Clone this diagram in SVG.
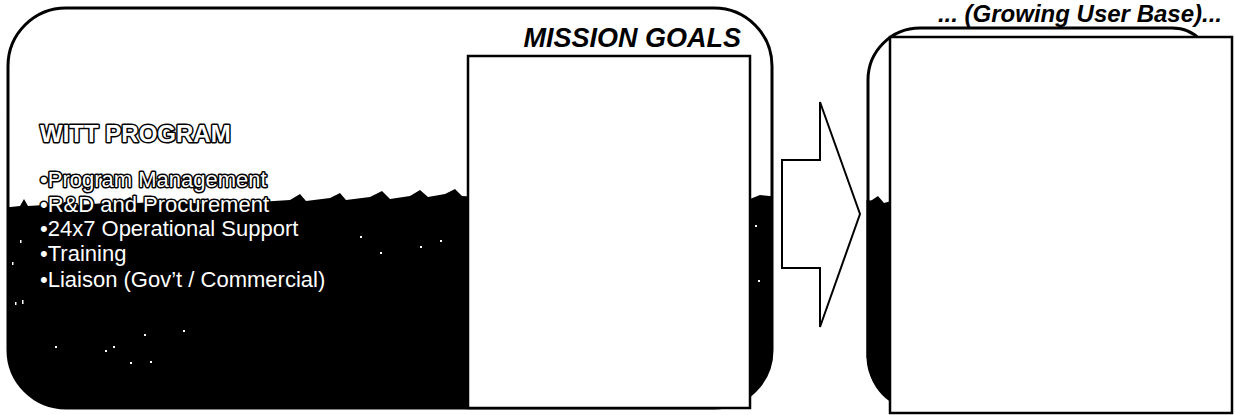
<svg xmlns="http://www.w3.org/2000/svg" width="1235" height="415" viewBox="0 0 1235 415">
<style>
.frame{fill:#fff;stroke:#000;stroke-width:3}
.panel{fill:#fff;stroke:#000;stroke-width:2.5}
.title{font-family:"Liberation Sans",Arial,sans-serif;font-weight:bold;font-style:italic;font-size:27px;fill:#000}
.sub{font-size:24px}
.item{font-family:"Liberation Sans",Arial,sans-serif;font-size:22px;fill:#fff;stroke:#000;stroke-width:3;paint-order:stroke;stroke-linejoin:round}
.hd{font-weight:bold;font-size:24px}
.dark{fill:#000}
.spk{fill:#fff}
</style>
<defs>
<clipPath id="clipL"><rect x="8" y="8" width="764" height="400" rx="58"/></clipPath>
<clipPath id="clipR"><path d="M868,80 A52,52 0 0 1 920,28 L1172,28 Q1190,28 1200,40 L1200,410 L918,410 A50,50 0 0 1 868,358 Z"/></clipPath>
</defs>

<g id="witt-program">
<rect class="frame" x="8" y="8" width="764" height="400" rx="58"/>
<g clip-path="url(#clipL)">
<path class="dark" d="M0,208 L20,206 L24,199 L28,206 L60,204 L70,200 L78,205 L120,202 L130,197 L136,203 L180,201 L200,204 L230,199 L240,203 L290,200 L300,194 L306,201 L330,198 L340,193 L346,200 L370,197 L382,191 L390,199 L410,196 L420,190 L428,197 L445,194 L455,189 L462,196 L480,197 L750,199 L760,195 L780,197 L780,415 L0,415 Z"/>
</g>
<g class="spk">
<rect x="22" y="300" width="1.5" height="4"/><rect x="15" y="302" width="1.5" height="3"/><rect x="55" y="346" width="2" height="2"/>
<rect x="105" y="350" width="2" height="2"/><rect x="113" y="346" width="2" height="2"/><rect x="130" y="362" width="2" height="2"/>
<rect x="150" y="361" width="2" height="2"/><rect x="144" y="334" width="2" height="2"/><rect x="183" y="330" width="2" height="2"/>
<rect x="380" y="252" width="2" height="2"/><rect x="420" y="246" width="2" height="2"/><rect x="440" y="240" width="2" height="2"/>
<rect x="20" y="240" width="1.5" height="3"/><rect x="12" y="262" width="1.5" height="3"/><rect x="360" y="236" width="2" height="2"/>
<rect x="755" y="225" width="2" height="2"/><rect x="758" y="280" width="2" height="2"/>
</g>
<text class="item hd" x="40" y="142">WITT PROGRAM</text>
<text class="item" x="40" y="187">•Program Management</text>
<text class="item" x="40" y="211.5">•R&amp;D and Procurement</text>
<text class="item" x="40" y="236">•24x7 Operational Support</text>
<text class="item" x="40" y="260.5">•Training</text>
<text class="item" x="40" y="287">•Liaison (Gov’t / Commercial)</text>
</g>

<g id="mission-goals">
<rect class="panel" x="468" y="56" width="282" height="352"/>
<text class="title" x="741" y="47" text-anchor="end">MISSION GOALS</text>
</g>

<g id="connectors">
<polygon points="782,160 820,160 820,102 860,214 820,327 820,268 782,268" fill="#fff" stroke="#000" stroke-width="2" stroke-linejoin="miter"/>
</g>

<g id="growing-user-base">
<path d="M868,358 L868,80 A52,52 0 0 1 920,28 L1172,28 Q1190,28 1200,40" fill="#fff" stroke="#000" stroke-width="3"/>
<g clip-path="url(#clipR)">
<path class="dark" d="M860,204 L872,200 L878,196 L884,203 L895,200 L895,415 L860,415 Z"/>
</g>
<path d="M868,200 L868,358 A50,50 0 0 0 890,398" fill="none" stroke="#000" stroke-width="3"/>
<rect class="panel" x="890" y="37" width="342" height="376"/>
<text class="title sub" x="1222" y="22" text-anchor="end">... (Growing User Base)...</text>
</g>
</svg>
